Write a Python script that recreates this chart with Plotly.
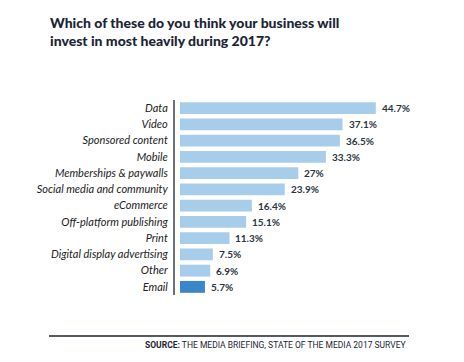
import plotly.graph_objects as go

categories = ["Data", "Video", "Sponsored content", "Mobile", "Memberships & paywalls",
              "Social media and community", "eCommerce", "Off-platform publishing", "Print",
              "Digital display advertising", "Other", "Email"]
values = [44.7, 37.1, 36.5, 33.3, 27, 23.9, 16.4, 15.1, 11.3, 7.5, 6.9, 5.7]
value_labels = ["44.7%", "37.1%", "36.5%", "33.3%", "27%", "23.9%", "16.4%", "15.1%",
                "11.3%", "7.5%", "6.9%", "5.7%"]

LIGHT = "#a8cdeb"
DARK = "#3b86c8"
colors = [DARK if c == "Email" else LIGHT for c in categories]
NAVY = "#1b2536"

fig = go.Figure(go.Bar(
    x=values, y=categories, orientation="h",
    marker=dict(color=colors, line=dict(width=0)),
    hoverinfo="skip",
))

for c, v, t in zip(categories, values, value_labels):
    fig.add_annotation(x=v, y=c, text=t, showarrow=False, xanchor="left", xshift=4,
                       font=dict(family="Lato", size=10, color="#2b3442", weight="bold"))

W, H = 464, 362
L, R, T, B = 167, 63, 92, 75

fig.update_layout(
    width=W, height=H, margin=dict(l=L, r=R, t=T, b=B),
    paper_bgcolor="white", plot_bgcolor="white",
    bargap=0.27, showlegend=False,
    title=dict(text="Which of these do you think your business will<br>invest in most heavily during 2017?",
               x=42 / W, xanchor="left", xref="container",
               y=1 - 20 / H, yanchor="top", yref="container",
               font=dict(family="Lato", size=14, color=NAVY, weight=900)),
    xaxis=dict(range=[-1.14, 52.28], visible=False, fixedrange=True),
    yaxis=dict(autorange="reversed", showline=True, linewidth=2, linecolor="#6b7079",
               ticks="", showgrid=False, zeroline=False, ticklabelstandoff=3,
               tickfont=dict(family="Lato", size=11, color="#222", style="italic")),
)

pw = W - L - R
ph = H - T - B
fig.add_shape(type="line", xref="paper", yref="paper",
              x0=(41 - L) / pw, x1=1.0, y0=(H - B - 328) / ph, y1=(H - B - 328) / ph,
              line=dict(color=NAVY, width=1.5))
fig.add_annotation(xref="paper", yref="paper", x=1.0, y=(H - B - 337) / ph,
                   xanchor="right", yanchor="middle", showarrow=False,
                   text="<b>SOURCE:</b> THE MEDIA BRIEFING, STATE OF THE MEDIA 2017 SURVEY",
                   font=dict(family="Roboto", size=8.5, color=NAVY))

fig.write_html("out.html")
